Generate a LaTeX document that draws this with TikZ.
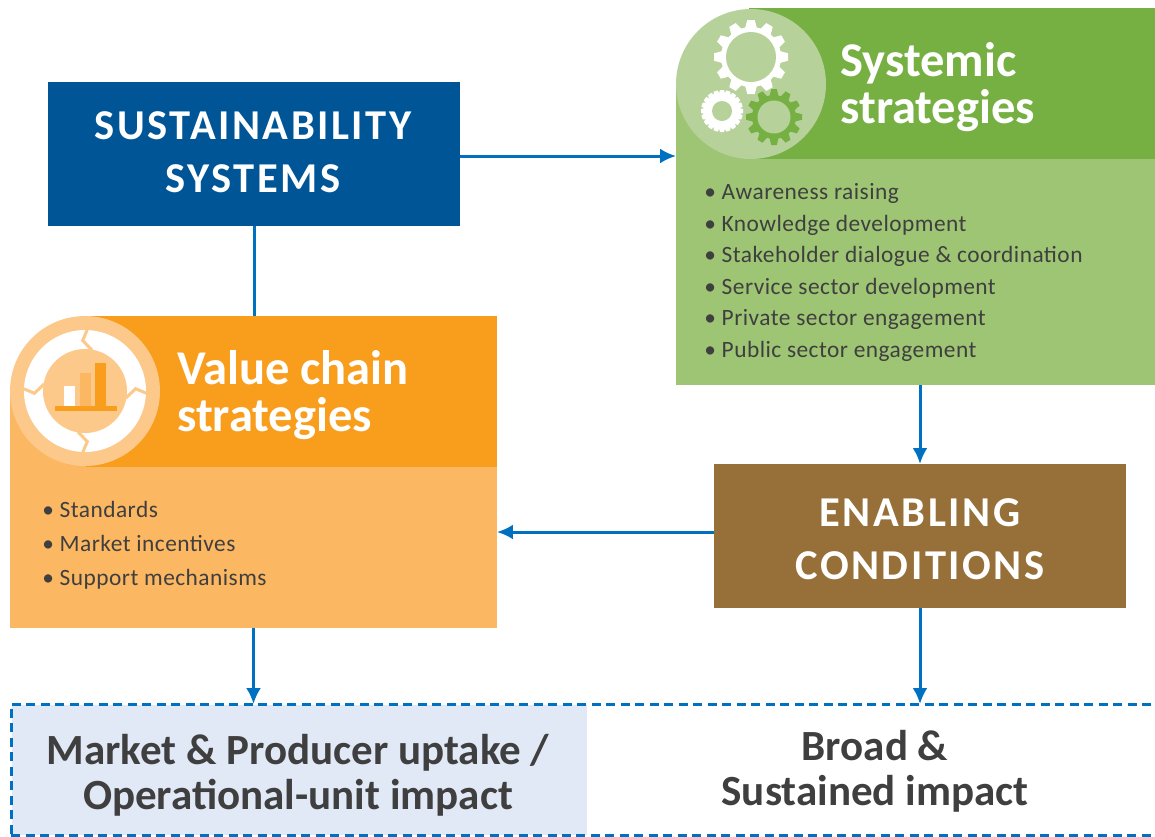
\documentclass[tikz,border=0pt]{standalone}
\usepackage{fontspec}
\setmainfont{Carlito}
\newfontfamily\capsfont[LetterSpace=6]{Carlito}
\newfontfamily\listfont[LetterSpace=2]{Carlito}
\usetikzlibrary{arrows.meta}
\definecolor{flowblue}{HTML}{0070C0}
\definecolor{sustblue}{HTML}{005596}
\definecolor{enablebrown}{HTML}{967038}
\definecolor{greenhead}{HTML}{76B043}
\definecolor{greenbody}{HTML}{9EC574}
\definecolor{greendisc}{HTML}{B7D19A}
\definecolor{orangehead}{HTML}{F99D1C}
\definecolor{orangebody}{HTML}{FBB762}
\definecolor{orangedisc}{HTML}{FDC98A}
\definecolor{impactfill}{HTML}{E1E8F6}
\definecolor{inktext}{HTML}{3F3F3F}
\tikzset{>=latex}
% centre, root radius, tip radius, teeth, hole radius, colours
\newcommand{\gearicon}[8]{
	\fill[#7] (#1,#2) circle (#3);
	\foreach \a in {1,...,#5}
	{
		\fill[#7,rotate around={\a*360/#5:(#1,#2)}]
			(#1+#3-1,#2-#4*0.16) -- (#1+#4,#2-#4*0.10) -- (#1+#4,#2+#4*0.10) -- (#1+#3-1,#2+#4*0.16) -- cycle;
	};
	\fill[#8] (#1,#2) circle (#6);
}
\begin{document}
\begin{tikzpicture}[x=0.02cm,y=-0.02cm,
		box/.style = {rectangle, outer sep=0pt, inner sep=0pt},
		capsbox/.style = {box, minimum width=8.24cm, minimum height=2.88cm},
		capstext/.style = {text=white, align=center, inner sep=0pt,
			font=\capsfont\fontsize{24.2}{30}\selectfont\bfseries},
		headtext/.style = {anchor=west, text=white, align=left, inner sep=0pt,
			font=\fontsize{27.6}{27}\selectfont\bfseries},
		listtext/.style = {anchor=north west, text=inktext, align=left, inner sep=0pt,
			font=\listfont\fontsize{13.3}{18}\selectfont},
		impacttext/.style = {text=inktext, align=center, inner sep=0pt,
			font=\fontsize{24.5}{25.5}\selectfont\bfseries},
		flow/.style = {flowblue, line width=0.06cm},
		flowarrow/.style = {flow, -{Latex[length=0.32cm,width=0.3cm]}},
	]
	\useasboundingbox (0,0) rectangle (1155,836);
	% right block
	\node[box, fill=greenbody, minimum width=9.58cm, minimum height=6.1cm] (systbody) at (915.5,232.5) {};
	\node[box, fill=greenhead, minimum width=8.12cm, minimum height=3.02cm] (systhead) at (952,83.5) {};
	\node[circle, fill=greendisc, inner sep=0pt, minimum size=3cm] (systdisc) at (751,84) {};
	\gearicon{751}{57}{30}{37}{12}{25}{white}{greendisc}
	\gearicon{722}{111}{17}{21}{20}{10}{white}{greendisc}
	\gearicon{774}{117}{22}{28}{12}{16.5}{greenhead}{greendisc}
	\node[headtext] (systtitle) at (840,87) {Systemic\\strategies};
	\node[listtext] (systlist) at (704,183) {\textbullet\ Awareness raising\\\textbullet\ Knowledge development\\\textbullet\ Stakeholder dialogue \& coordination\\\textbullet\ Service sector development\\\textbullet\ Private sector engagement\\\textbullet\ Public sector engagement};
	% left block
	\node[box, fill=orangebody, minimum width=9.74cm, minimum height=4.7cm] (valuebody) at (253.5,510.5) {};
	\node[box, fill=orangehead, minimum width=8.22cm, minimum height=3.02cm] (valuehead) at (291.5,391.5) {};
	\node[circle, fill=orangedisc, inner sep=0pt, minimum size=3cm] (valuedisc) at (85,391) {};
	\fill[white] (85,391) circle (61);
	\fill[orangedisc] (85,391) circle (42);
	\foreach \r in {0,90,180,270}
	{
		\draw[orangedisc, line width=0.06cm, rotate around={\r:(85,391)}] (87.5,329) -- (82.7,340.5) -- (92,350);
	};
	\fill[white] (64,386) rectangle (75,406);
	\fill[orangebody] (80,373) rectangle (91,406);
	\fill[orangehead] (95,363) rectangle (106,406);
	\fill[orangehead] (55,406) rectangle (117,411);
	\node[headtext] (valuetitle) at (177,395) {Value chain\\strategies};
	\node[listtext, font=\listfont\fontsize{13.3}{19.3}\selectfont] (valuelist) at (42,501) {\textbullet\ Standards\\\textbullet\ Market incentives\\\textbullet\ Support mechanisms};
	% caps boxes
	\node[capsbox, fill=sustblue] (sustain) at (254,154) {};
	\node[capstext] (sustaintext) at (253,152) {SUSTAINABILITY\\SYSTEMS};
	\node[capsbox, fill=enablebrown] (enabling) at (920,536) {};
	\node[capstext] (enablingtext) at (920,539) {ENABLING\\CONDITIONS};
	% impact band
	\node[box, fill=impactfill, minimum width=11.5cm, minimum height=2.6cm] (marketfill) at (299.5,769.5) {};
	\node[box, draw=flowblue, dashed, line width=0.06cm, dash pattern=on 0.18cm off 0.11cm, minimum width=23cm, minimum height=2.62cm] (impact) at (586,769.5) {};
	\node[impacttext] (markettext) at (298,775) {Market \& Producer uptake /\\Operational-unit impact};
	\node[impacttext] (broadtext) at (875,771) {Broad \&\\Sustained impact};
	% connectors
	\draw[flow] (sustain.south) -- (sustain.south |- valuehead.north);
	\draw[flowarrow] ([yshift=-0.04cm]sustain.east) -- ([yshift=-0.04cm]sustain.east -| systbody.west);
	\draw[flowarrow] (enabling.north |- systbody.south) -- (enabling.north);
	\draw[flowarrow] ([yshift=0.08cm]enabling.west) -- ([yshift=0.08cm]enabling.west -| valuebody.east);
	\draw[flowarrow] (valuebody.south) -- (valuebody.south |- impact.north);
	\draw[flowarrow] (enabling.south) -- (enabling.south |- impact.north);
\end{tikzpicture}
\end{document}
